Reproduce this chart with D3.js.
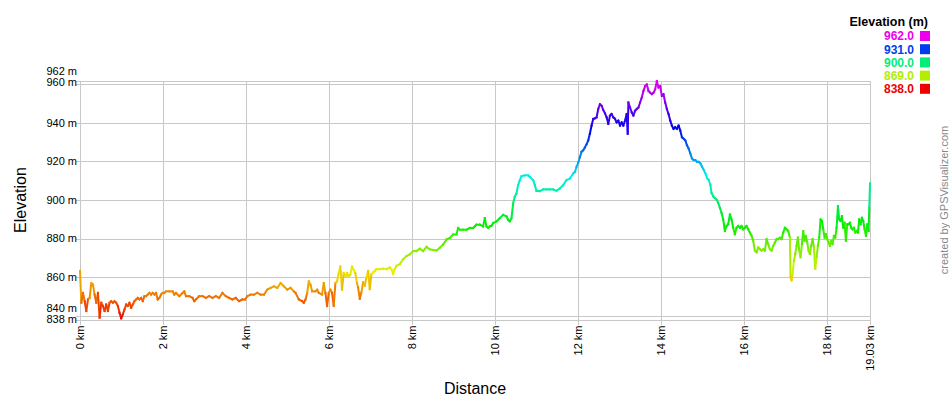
<!DOCTYPE html>
<html>
<head>
<meta charset="utf-8">
<script src="https://cdn.jsdelivr.net/npm/d3@7"></script>
<style>
body { margin: 0; background: #fff; }
svg { display: block; font-family: "Liberation Sans", Arial, sans-serif; }
</style>
</head>
<body>
<script>
// track profile: distance (km) and elevation (m)
var distKm = [
    0.000, 0.032, 0.072, 0.112, 0.152, 0.192, 0.232, 0.272, 0.312, 0.352, 0.392, 0.432, 0.472, 0.512, 0.552, 0.592,
    0.632, 0.672, 0.712, 0.752, 0.792, 0.832, 0.872, 0.912, 0.952, 0.992, 1.032, 1.072, 1.112, 1.152, 1.192, 1.232,
    1.272, 1.312, 1.352, 1.392, 1.432, 1.472, 1.512, 1.552, 1.592, 1.632, 1.672, 1.712, 1.752, 1.792, 1.832, 1.872,
    1.912, 1.952, 1.992, 2.032, 2.072, 2.152, 2.232, 2.272, 2.312, 2.392, 2.472, 2.512, 2.552, 2.632, 2.712, 2.752,
    2.792, 2.872, 2.952, 3.032, 3.112, 3.192, 3.272, 3.352, 3.432, 3.512, 3.592, 3.672, 3.752, 3.832, 3.912, 3.976,
    4.032, 4.112, 4.192, 4.272, 4.352, 4.432, 4.512, 4.592, 4.672, 4.752, 4.832, 4.912, 4.992, 5.072, 5.152, 5.192,
    5.272, 5.352, 5.392, 5.432, 5.472, 5.512, 5.552, 5.592, 5.672, 5.712, 5.752, 5.832, 5.872, 5.912, 5.952, 5.992,
    6.032, 6.072, 6.112, 6.152, 6.192, 6.232, 6.272, 6.312, 6.352, 6.392, 6.432, 6.472, 6.512, 6.552, 6.592, 6.632,
    6.672, 6.699, 6.739, 6.779, 6.819, 6.859, 6.900, 6.940, 6.980, 7.020, 7.060, 7.100, 7.141, 7.221, 7.301, 7.382,
    7.462, 7.502, 7.542, 7.582, 7.622, 7.703, 7.783, 7.863, 7.944, 8.024, 8.104, 8.185, 8.265, 8.345, 8.426, 8.506,
    8.586, 8.667, 8.747, 8.827, 8.908, 8.988, 9.068, 9.108, 9.149, 9.229, 9.309, 9.390, 9.470, 9.510, 9.550, 9.631,
    9.711, 9.751, 9.791, 9.831, 9.871, 9.912, 9.952, 10.032, 10.112, 10.193, 10.273, 10.313, 10.353, 10.394, 10.434, 10.474,
    10.514, 10.554, 10.594, 10.635, 10.715, 10.795, 10.835, 10.916, 10.956, 10.996, 11.076, 11.157, 11.237, 11.317, 11.398, 11.478,
    11.558, 11.639, 11.719, 11.799, 11.880, 11.920, 11.960, 12.000, 12.040, 12.081, 12.121, 12.161, 12.202, 12.242, 12.282, 12.323,
    12.363, 12.403, 12.444, 12.484, 12.524, 12.565, 12.605, 12.645, 12.685, 12.726, 12.766, 12.806, 12.847, 12.887, 12.927, 12.968,
    13.008, 13.048, 13.089, 13.129, 13.169, 13.194, 13.210, 13.250, 13.290, 13.331, 13.371, 13.411, 13.452, 13.492, 13.532, 13.573,
    13.613, 13.653, 13.694, 13.734, 13.774, 13.815, 13.855, 13.895, 13.935, 13.976, 14.016, 14.056, 14.097, 14.137, 14.177, 14.218,
    14.258, 14.298, 14.339, 14.379, 14.419, 14.460, 14.500, 14.540, 14.581, 14.621, 14.661, 14.702, 14.742, 14.782, 14.823, 14.863,
    14.903, 14.944, 14.984, 15.024, 15.065, 15.105, 15.145, 15.185, 15.213, 15.253, 15.293, 15.333, 15.373, 15.414, 15.454, 15.494,
    15.534, 15.574, 15.614, 15.655, 15.695, 15.735, 15.775, 15.815, 15.855, 15.896, 15.936, 15.976, 16.016, 16.056, 16.096, 16.137,
    16.177, 16.217, 16.257, 16.297, 16.337, 16.378, 16.418, 16.458, 16.498, 16.538, 16.578, 16.618, 16.659, 16.699, 16.739, 16.779,
    16.819, 16.859, 16.900, 16.940, 16.980, 17.020, 17.060, 17.100, 17.116, 17.141, 17.165, 17.197, 17.229, 17.261, 17.293, 17.325,
    17.357, 17.390, 17.422, 17.454, 17.486, 17.518, 17.550, 17.582, 17.614, 17.647, 17.679, 17.711, 17.743, 17.775, 17.807, 17.839,
    17.871, 17.904, 17.936, 17.968, 18.000, 18.032, 18.064, 18.096, 18.129, 18.161, 18.193, 18.225, 18.257, 18.289, 18.321, 18.353,
    18.386, 18.418, 18.450, 18.482, 18.514, 18.546, 18.578, 18.610, 18.643, 18.675, 18.707, 18.739, 18.771, 18.803, 18.835, 18.867,
    18.900, 18.932, 18.964, 18.996, 19.012, 19.030
];
var elevM = [
    863.2, 846.7, 851.8, 847.5, 842.4, 848.4, 849.2, 856.9, 856.1, 850.9, 846.7, 851.8, 839.0, 846.7, 845.0, 842.4,
    845.8, 842.4, 846.7, 847.5, 846.7, 847.5, 846.7, 845.0, 841.5, 838.6, 840.7, 843.2, 845.8, 845.0, 846.7, 844.1,
    845.8, 847.5, 848.4, 849.2, 848.4, 849.2, 847.5, 850.1, 850.1, 850.9, 851.8, 850.9, 851.8, 850.9, 851.8, 848.4,
    849.2, 850.9, 851.8, 851.8, 852.6, 852.6, 852.6, 850.9, 851.8, 850.1, 851.8, 852.6, 850.1, 850.1, 849.2, 847.5,
    848.4, 850.1, 850.1, 849.2, 850.1, 849.2, 850.1, 849.2, 851.8, 850.1, 849.2, 848.4, 849.2, 847.5, 848.4, 848.4,
    850.1, 850.9, 850.9, 851.8, 850.9, 850.9, 853.5, 854.4, 855.2, 854.4, 856.9, 855.2, 853.5, 854.4, 852.6, 851.8,
    848.4, 847.5, 846.7, 848.4, 851.8, 857.8, 856.1, 852.6, 852.6, 853.5, 851.8, 850.9, 856.9, 851.8, 845.0, 851.8,
    853.5, 851.8, 845.0, 856.9, 857.8, 862.1, 865.5, 853.5, 862.1, 860.3, 862.1, 860.3, 861.2, 865.5, 863.8, 862.1,
    856.9, 854.7, 848.7, 852.1, 857.3, 855.6, 859.8, 863.2, 853.8, 861.5, 862.4, 863.2, 864.1, 864.1, 864.4, 864.1,
    865.0, 864.1, 861.5, 864.1, 865.8, 866.7, 869.2, 870.9, 871.8, 873.5, 873.5, 874.7, 873.5, 875.7, 874.4, 874.0,
    873.8, 875.2, 876.9, 879.5, 880.3, 882.1, 882.1, 885.5, 884.6, 884.6, 884.6, 885.5, 885.5, 886.3, 887.2, 887.2,
    886.3, 890.6, 886.3, 885.5, 886.3, 886.7, 888.0, 888.9, 890.6, 892.3, 891.5, 889.7, 888.9, 890.6, 898.3, 901.7,
    903.4, 907.7, 910.3, 912.3, 912.8, 912.8, 912.0, 910.3, 907.7, 904.8, 904.6, 905.5, 905.5, 905.5, 905.5, 904.8,
    906.0, 907.7, 910.3, 911.1, 913.7, 914.5, 917.1, 919.3, 922.1, 925.0, 925.8, 927.2, 928.9, 930.9, 934.4, 938.6,
    942.1, 942.4, 942.9, 947.2, 949.7, 948.9, 946.7, 945.0, 942.9, 939.5, 943.8, 944.6, 942.9, 942.1, 940.3, 941.2,
    938.6, 940.3, 938.6, 941.2, 944.6, 934.4, 950.6, 948.0, 945.5, 943.8, 946.3, 947.2, 948.0, 950.6, 953.2, 956.6,
    959.1, 960.0, 956.6, 955.7, 954.9, 955.7, 957.4, 961.7, 958.3, 959.1, 954.0, 954.9, 950.6, 947.2, 944.6, 941.2,
    938.6, 936.9, 937.8, 936.9, 938.6, 936.1, 932.6, 931.8, 930.9, 928.4, 926.7, 924.1, 921.5, 920.7, 920.7, 919.8,
    919.8, 919.0, 917.3, 915.6, 913.8, 911.3, 910.4, 907.9, 903.6, 901.9, 901.0, 900.2, 898.5, 895.9, 893.3, 889.9,
    883.9, 886.5, 887.4, 892.5, 889.9, 885.6, 882.2, 885.6, 886.5, 885.6, 886.5, 884.8, 885.6, 886.5, 884.8, 883.1,
    881.4, 878.8, 873.7, 872.8, 875.4, 874.5, 873.7, 874.5, 873.7, 879.7, 877.1, 874.5, 873.7, 876.2, 877.9, 879.7,
    879.7, 880.5, 879.7, 883.1, 885.6, 884.8, 883.9, 880.5, 860.0, 858.3, 861.7, 868.5, 872.0, 876.2, 880.5, 873.7,
    870.3, 877.1, 883.9, 878.8, 881.4, 877.9, 873.7, 872.0, 876.2, 879.7, 875.4, 864.3, 870.3, 876.2, 880.5, 889.9,
    889.1, 884.8, 880.5, 882.2, 879.7, 877.9, 876.2, 878.8, 877.1, 881.4, 880.5, 885.6, 896.8, 889.9, 889.1, 891.6,
    885.6, 888.2, 878.8, 887.4, 887.4, 888.2, 885.6, 884.8, 885.6, 883.1, 883.9, 883.1, 889.9, 887.4, 890.8, 889.1,
    884.8, 881.4, 887.4, 883.9, 895.9, 908.7
];

var yTicks = [840, 860, 880, 900, 920, 940, 960];
var yMin = 838, yMax = 962;
var xTicks = [0, 2, 4, 6, 8, 10, 12, 14, 16, 18];
var xMax = 19.03;
var legendValues = [962.0, 931.0, 900.0, 869.0, 838.0];

var width = 950, height = 400;
var plotLeft = 80, plotRight = 870, plotTop = 80.5, plotBottom = 319.5;

var svg = d3.select("body")
    .append("svg")
    .attr("width", width)
    .attr("height", height);

var x = d3.scaleLinear().domain([0, xMax]).range([plotLeft, plotRight]);
var y = d3.scaleLinear().domain([yMin, yMax]).range([plotBottom, plotTop]);

// red at the bottom through to magenta at the top
var hue = d3.scaleLinear().domain([yMin, yMax]).range([0, 300]);
function colour(e) {
    return d3.hsl(hue(e), 1, 0.467).formatHex();
}

var grid = svg.append("g").attr("stroke", "#c8c8c8").attr("stroke-width", 1).attr("shape-rendering", "crispEdges");

grid.selectAll(".hline")
    .data(yTicks.concat([yMin, yMax]))
    .enter()
    .append("line")
    .attr("x1", plotLeft - 4)
    .attr("x2", plotRight)
    .attr("y1", function (d) { return Math.round(y(d)) + 0.5; })
    .attr("y2", function (d) { return Math.round(y(d)) + 0.5; });

grid.selectAll(".vline")
    .data(xTicks.concat([xMax]))
    .enter()
    .append("line")
    .attr("y1", plotTop)
    .attr("y2", plotBottom + 5)
    .attr("x1", function (d) { return Math.round(x(d)) + 0.5; })
    .attr("x2", function (d) { return Math.round(x(d)) + 0.5; });

// y labels, the end values nudged apart so they don't overlap
var yLabels = yTicks.map(function (d) { return {v: d, dy: 0}; });
yLabels[0].dy = -7;
yLabels[yLabels.length - 1].dy = -2;
yLabels.push({v: yMax, dy: -9});
yLabels.push({v: yMin, dy: 0});

svg.append("g")
    .selectAll("text")
    .data(yLabels)
    .enter()
    .append("text")
    .attr("x", plotLeft - 3)
    .attr("y", function (d) { return y(d.v) + d.dy; })
    .attr("dy", "0.35em")
    .attr("text-anchor", "end")
    .attr("font-size", 11)
    .attr("fill", "#000")
    .text(function (d) { return d.v + " m"; });

svg.append("g")
    .selectAll("text")
    .data(xTicks.concat([xMax]))
    .enter()
    .append("text")
    .attr("transform", function (d) { return "translate(" + x(d) + "," + (plotBottom + 6) + ") rotate(-90)"; })
    .attr("dy", "0.35em")
    .attr("text-anchor", "end")
    .attr("font-size", 11)
    .attr("fill", "#000")
    .text(function (d) { return d + " km"; });

// profile, one short segment per step so each gets its own colour
var segs = d3.range(distKm.length - 1);
svg.append("g")
    .attr("stroke-width", 2)
    .attr("stroke-linecap", "square")
    .selectAll("line")
    .data(segs)
    .enter()
    .append("line")
    .attr("x1", function (i) { return x(distKm[i]); })
    .attr("y1", function (i) { return y(elevM[i]); })
    .attr("x2", function (i) { return x(distKm[i + 1]); })
    .attr("y2", function (i) { return y(elevM[i + 1]); })
    .attr("stroke", function (i) { return colour((elevM[i] + elevM[i + 1]) / 2); });

svg.append("text")
    .attr("x", (plotLeft + plotRight) / 2)
    .attr("y", 394)
    .attr("text-anchor", "middle")
    .attr("font-size", 16)
    .text("Distance");

svg.append("text")
    .attr("transform", "translate(26," + (plotTop + plotBottom) / 2 + ") rotate(-90)")
    .attr("text-anchor", "middle")
    .attr("font-size", 16)
    .text("Elevation");

svg.append("text")
    .attr("transform", "translate(948,200) rotate(-90)")
    .attr("text-anchor", "middle")
    .attr("font-size", 11)
    .attr("fill", "#888")
    .text("created by GPSVisualizer.com");

// legend
svg.append("text")
    .attr("x", 928)
    .attr("y", 26)
    .attr("text-anchor", "end")
    .attr("font-size", 12.5)
    .attr("font-weight", "bold")
    .text("Elevation (m)");

var leg = svg.append("g")
    .selectAll("g")
    .data(legendValues)
    .enter()
    .append("g")
    .attr("transform", function (d, i) { return "translate(0," + (36 + i * 13.2) + ")"; });

leg.append("rect")
    .attr("x", 920)
    .attr("y", -5)
    .attr("width", 10)
    .attr("height", 10)
    .attr("fill", function (d) { return colour(d); });

leg.append("text")
    .attr("x", 914)
    .attr("dy", "0.36em")
    .attr("text-anchor", "end")
    .attr("font-size", 12)
    .attr("font-weight", "bold")
    .attr("fill", function (d) { return colour(d); })
    .text(function (d) { return d.toFixed(1); });
</script>
</body>
</html>
